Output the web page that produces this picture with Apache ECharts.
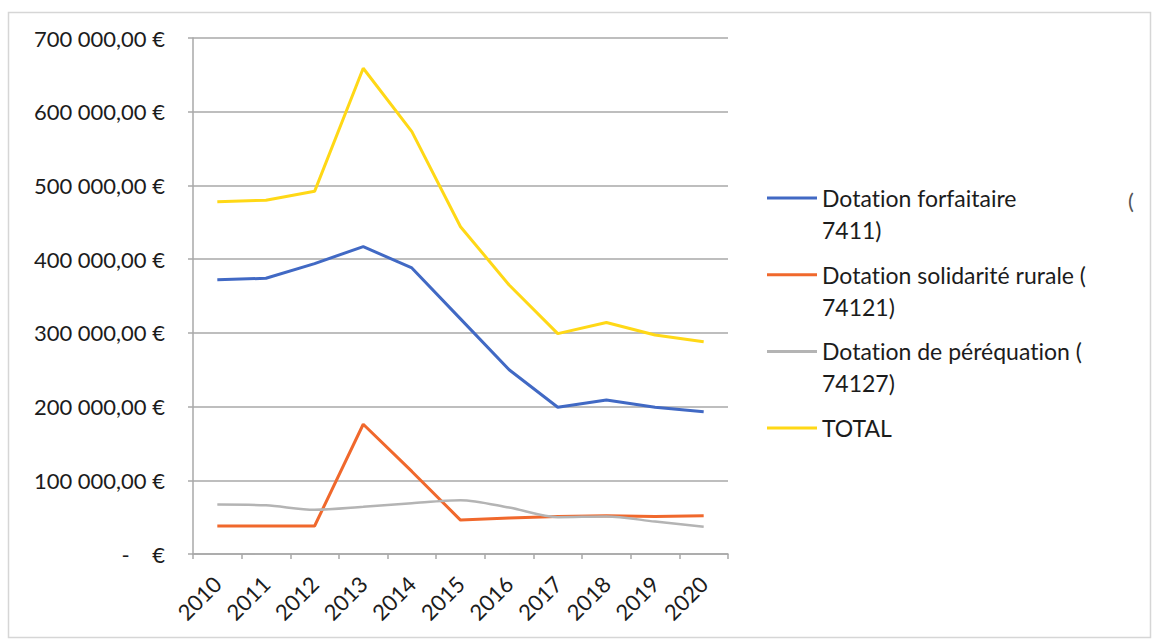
<!DOCTYPE html>
<html>
<head>
<meta charset="utf-8">
<script src="https://cdn.jsdelivr.net/npm/echarts@6/dist/echarts.min.js"></script>
<style>
  html, body { margin: 0; padding: 0; background: #fff; }
  #chart { width: 1153px; height: 641px; }
  #chart text { font-variant-ligatures: none; }
</style>
</head>
<body>
<div id="chart"></div>
<script>
// Years on the category axis
const years = ['2010', '2011', '2012', '2013', '2014', '2015', '2016', '2017', '2018', '2019', '2020'];

// Amounts in euros per year
const dotationForfaitaire = [372000, 374000, 394000, 417000, 388000, 319000, 250000, 199000, 209000, 199000, 193000];
const dotationSolidariteRurale = [38000, 38000, 38000, 176000, 112000, 46000, 49000, 51000, 52000, 51000, 52000];
const dotationPerequation = [67000, 66000, 60000, 64000, 69000, 73000, 63000, 50000, 51000, 44000, 37000];
const totalDotations = [478000, 480000, 492000, 659000, 573000, 444000, 365000, 299000, 314000, 297000, 288000];

// Series names and how the legend splits them over two lines
const seriesNames = ['Dotation forfaitaire (7411)', 'Dotation solidarité rurale (74121)', 'Dotation de péréquation (74127)', 'TOTAL'];
const legendFirstLines = ['Dotation forfaitaire', 'Dotation solidarité rurale (', 'Dotation de péréquation (', 'TOTAL'];
const legendSecondLines = ['7411)', '74121)', '74127)', ''];

// Y axis scale
const yMin = 0, yMax = 700000, yStep = 100000;

const colors = ['#4169c4', '#f0682c', '#b4b4b4', '#ffd816'];
const FONT = 'Lato';
const TEXT = '#1c1c1c';

function euro(v) {
  if (v === 0) return '-    €';
  const s = String(Math.round(v)).replace(/\B(?=(\d{3})+(?!\d))/g, ' ');
  return s + ',00 €';
}

const chart = echarts.init(document.getElementById('chart'), null, { renderer: 'svg' });

const legendTop = 186, legendStep = 76.7, legendLeft = 767, legendLineH = 24;
const legendFont = 23;

const graphics = [
  {
    type: 'rect', silent: true,
    shape: { x: 8.5, y: 12.5, width: 1142, height: 625 },
    style: { fill: 'none', stroke: '#d6d6d6', lineWidth: 1.5 }
  },
  {
    type: 'text', x: 1128, y: 200,
    style: { text: '(', fontSize: 22, fontFamily: FONT, fill: '#555', verticalAlign: 'middle' }
  }
];
legendSecondLines.forEach((t, i) => {
  if (!t) return;
  graphics.push({
    type: 'text', x: legendLeft + 55, y: legendTop + legendLineH / 2 + i * legendStep + 32,
    style: { text: t, fontSize: legendFont, fontFamily: FONT, fill: TEXT, verticalAlign: 'middle' }
  });
});

const seriesData = [dotationForfaitaire, dotationSolidariteRurale, dotationPerequation, totalDotations];

chart.setOption({
  animation: false,
  backgroundColor: '#fff',
  color: colors,
  grid: { left: 193, right: 425, top: 38, bottom: 87, containLabel: false },
  legend: {
    orient: 'vertical',
    left: legendLeft, top: legendTop,
    padding: 0,
    itemWidth: 50, itemHeight: 14,
    itemGap: legendStep - legendLineH,
    data: seriesNames.map(n => ({ name: n, icon: 'path://M0,6 L50,6 L50,9 L0,9 Z' })),
    formatter: name => legendFirstLines[seriesNames.indexOf(name)],
    textStyle: { fontSize: legendFont, fontFamily: FONT, color: TEXT, lineHeight: legendLineH }
  },
  graphic: graphics,
  xAxis: {
    type: 'category',
    data: years,
    boundaryGap: true,
    axisLine: { lineStyle: { color: '#a8a8a8', width: 1.5 } },
    axisTick: { show: true, length: 5, lineStyle: { color: '#a8a8a8', width: 1.5 } },
    axisLabel: { rotate: 45, fontSize: 22, fontFamily: FONT, color: TEXT, margin: 26, interval: 0 },
    splitLine: { show: false }
  },
  yAxis: {
    type: 'value',
    min: yMin, max: yMax, interval: yStep,
    axisLine: { show: true, lineStyle: { color: '#a8a8a8', width: 1.5 } },
    axisTick: { show: true, length: 5, lineStyle: { color: '#a8a8a8', width: 1.5 } },
    axisLabel: { fontSize: 22, fontFamily: FONT, color: TEXT, margin: 28, formatter: euro },
    splitLine: { show: true, lineStyle: { color: '#a8a8a8', width: 1.5 } }
  },
  series: seriesNames.map((name, i) => ({
    name,
    type: 'line',
    data: seriesData[i],
    symbol: 'none',
    smooth: i === 2 ? 0.3 : false,
    lineStyle: { width: i === 2 ? 2.5 : 3, color: colors[i] },
    itemStyle: { color: colors[i] },
    z: i === 3 ? 3 : 2
  }))
});
</script>
</body>
</html>
